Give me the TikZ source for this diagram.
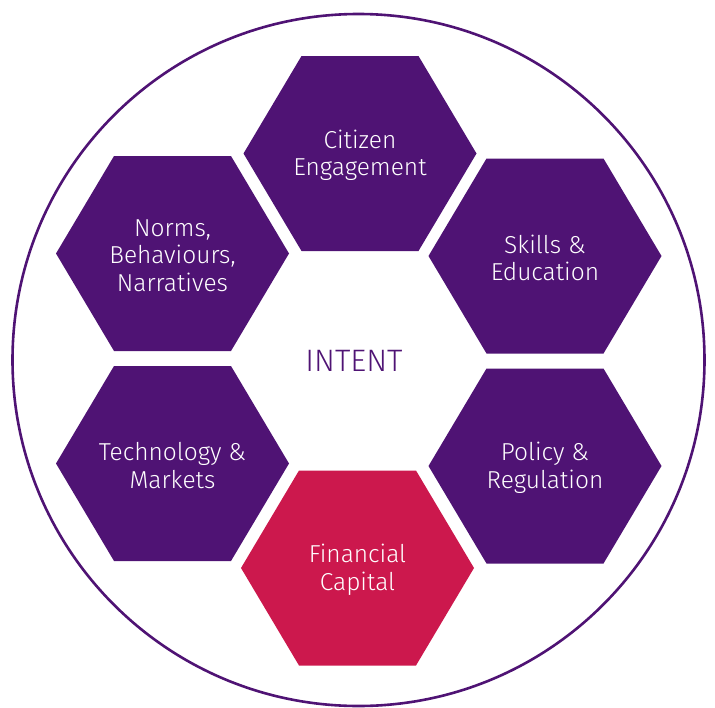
\documentclass[tikz,border=0pt]{standalone}
\usepackage{fontspec}
\setmainfont{Fira Sans Light}
\usetikzlibrary{positioning}

\definecolor{intentpurple}{HTML}{4F1374}
\definecolor{intentred}{HTML}{CC184D}

\tikzset{
  hexcell/.pic={\fill (-116.5,0) -- (-58.5,-97.5) -- (58.5,-97.5) -- (116.5,0)
    -- (58.5,97.5) -- (-58.5,97.5) -- cycle;},
  hexlabel/.style={text=white, align=center, yshift=-2pt, font=\fontsize{24.5}{27.5}\selectfont},
  core/.style={text=intentpurple, font=\fontsize{31}{36}\selectfont}
}

\begin{document}
\begin{tikzpicture}[x=1pt,y=-1pt]
  \useasboundingbox (0,0) rectangle (715,707);
  \draw[intentpurple, line width=2.6pt] (358.5,360) circle (346);

  % the six cells
  \pic[fill=intentpurple] at (360,153.5) {hexcell};
  \pic[fill=intentpurple] at (172.5,253.5) {hexcell};
  \pic[fill=intentpurple] at (545,256) {hexcell};
  \pic[fill=intentpurple] at (172.5,463.5) {hexcell};
  \pic[fill=intentpurple] at (545,466) {hexcell};
  \pic[fill=intentred] at (357.5,568) {hexcell};

  \node[hexlabel] (citizen) at (360,153.5) {Citizen\\Engagement};
  \node[hexlabel] (norms) at (172.5,253.5) {Norms,\\Behaviours,\\Narratives};
  \node[hexlabel] (skills) at (545,256) {Skills \&\\Education};
  \node[hexlabel] (tech) at (172.5,463.5) {Technology \&\\Markets};
  \node[hexlabel] (policy) at (545,466) {Policy \&\\Regulation};
  \node[hexlabel] (finance) at (357.5,568) {Financial\\Capital};

  \node[core] (intent) at (354,361) {INTENT};
\end{tikzpicture}
\end{document}
